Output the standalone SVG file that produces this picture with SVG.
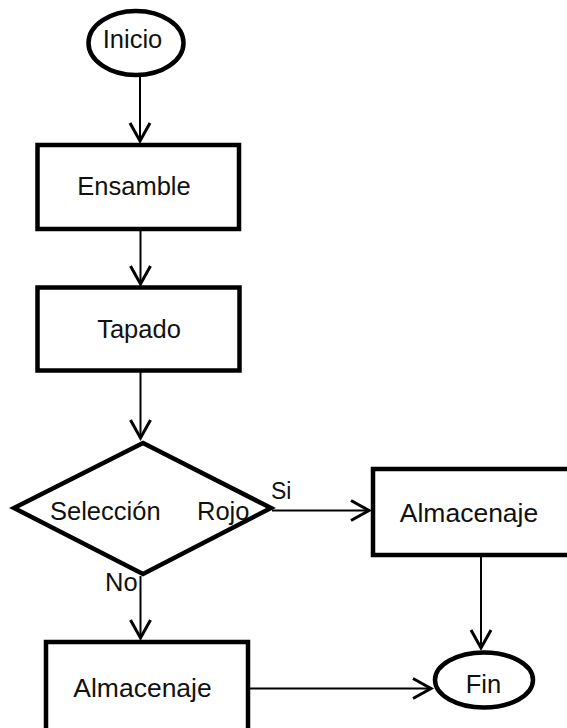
<svg xmlns="http://www.w3.org/2000/svg" width="567" height="728" viewBox="0 0 567 728">
  <style>
    .shape { fill: #ffffff; stroke: #000000; stroke-width: 4.5; }
    .label { font-family: "Liberation Sans", Arial, sans-serif; font-size: 25.5px; fill: #111111; }
    .wide { font-size: 26.5px; }
    .mid { text-anchor: middle; }
    .flow { fill: none; stroke: #000000; stroke-width: 2; marker-end: url(#chevron); }
  </style>
  <defs>
    <marker id="chevron" markerUnits="userSpaceOnUse" markerWidth="24" markerHeight="26" viewBox="-20 -12 24 24" refX="0" refY="0" orient="auto">
      <path d="M-18,-10 L0,0 L-18,10" fill="none" stroke="#000000" stroke-width="3" stroke-linejoin="miter"/>
    </marker>
  </defs>

  <rect width="567" height="728" fill="#ffffff"/>

  <!-- connectors -->
  <g id="connectors">
    <line class="flow" x1="140" y1="75" x2="140" y2="141"/>
    <line class="flow" x1="140.5" y1="231" x2="140.5" y2="284"/>
    <line class="flow" x1="140.5" y1="372" x2="140.5" y2="438"/>
    <line class="flow" x1="272" y1="510.5" x2="369" y2="510.5"/>
    <line class="flow" x1="140.5" y1="576" x2="140.5" y2="638"/>
    <line class="flow" x1="481" y1="557" x2="481" y2="648"/>
    <line class="flow" x1="250" y1="688.5" x2="431" y2="688.5"/>
  </g>

  <g id="inicio">
    <ellipse class="shape" cx="136" cy="43" rx="47.5" ry="32"/>
    <text class="label mid" x="132.5" y="48">Inicio</text>
  </g>

  <g id="ensamble">
    <rect class="shape" x="37.5" y="145" width="201.5" height="84"/>
    <text class="label mid" x="134" y="195">Ensamble</text>
  </g>

  <g id="tapado">
    <rect class="shape" x="37.5" y="287.5" width="202" height="83"/>
    <text class="label mid" x="139" y="338">Tapado</text>
  </g>

  <g id="seleccion">
    <polygon class="shape" points="143,443 271,508 143,574 14,508"/>
    <text class="label" x="50" y="519.5">Selección</text>
    <text class="label" x="197" y="519.5">Rojo</text>
    <text class="label" x="271" y="499" style="font-size:23px">Si</text>
    <text class="label" x="105" y="591">No</text>
  </g>

  <g id="almacenaje-si">
    <rect class="shape" x="373" y="469" width="210" height="86"/>
    <text class="label wide mid" x="469" y="522">Almacenaje</text>
  </g>

  <g id="almacenaje-no">
    <rect class="shape" x="46" y="642" width="202" height="100"/>
    <text class="label wide mid" x="142.5" y="696.5">Almacenaje</text>
  </g>

  <g id="fin">
    <ellipse class="shape" cx="484" cy="680" rx="49" ry="27.5"/>
    <text class="label mid" x="483.5" y="693">Fin</text>
  </g>
</svg>
